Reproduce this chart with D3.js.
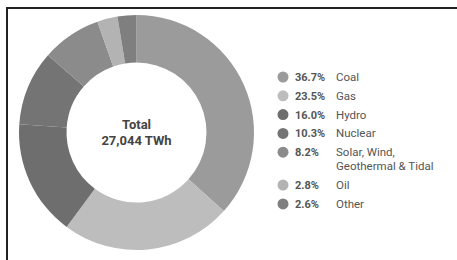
<!DOCTYPE html>
<html lang="en">
    <body>
        <svg id="chart"></svg>
    </body>

    <script src="https://d3js.org/d3.v7.min.js"></script>

    <script>
        var labels = ["Coal", "Gas", "Hydro", "Nuclear", "Solar, Wind,|Geothermal & Tidal", "Oil", "Other"];
        var shares = [36.7, 23.5, 16.0, 10.3, 8.2, 2.8, 2.6];
        var colours = ["#9b9b9b", "#bdbdbd", "#6e6e6e", "#747474", "#8b8b8b", "#b3b3b3", "#7f7f7f"];
        var totalLines = ["Total", "27,044 TWh"];

        var width = 457;
        var height = 260;
        var cx = 136.5, cy = 132.5;
        var outerR = 117.5, innerR = 70;

        var svg = d3.select("#chart")
            .attr("width", width)
            .attr("height", height);

        // frame (left + top only)
        svg.append("path")
            .attr("d", "M7,260 V8 H457")
            .attr("fill", "none")
            .attr("stroke", "#222")
            .attr("stroke-width", 2);

        var pie = d3.pie().sort(null).value(function (d) { return d; });
        var arc = d3.arc().innerRadius(innerR).outerRadius(outerR);

        var g = svg.append("g")
            .attr("transform", "translate(" + cx + "," + cy + ")");

        g.selectAll("path")
            .data(pie(shares))
            .enter()
            .append("path")
            .attr("d", arc)
            .attr("fill", function (d, i) { return colours[i]; });

        g.selectAll("text")
            .data(totalLines)
            .enter()
            .append("text")
            .attr("text-anchor", "middle")
            .attr("y", function (d, i) { return -4 + i * 16; })
            .attr("font-family", "Roboto, sans-serif")
            .attr("font-weight", "bold")
            .attr("font-size", 13)
            .attr("fill", "#444")
            .text(function (d) { return d; });

        // legend rows, the two-line label takes an extra row
        var rowY = d3.scaleLinear().domain([0, 1]).range([77, 95.8]);
        var rowIndex = [0, 1, 2, 3, 4, 5.75, 6.75];

        var legend = svg.append("g");
        var rows = legend.selectAll("g")
            .data(labels)
            .enter()
            .append("g")
            .attr("transform", function (d, i) { return "translate(283," + rowY(rowIndex[i]) + ")"; });

        rows.append("circle")
            .attr("r", 5.5)
            .attr("fill", function (d, i) { return colours[i]; });

        rows.append("text")
            .attr("x", 12)
            .attr("y", 4)
            .attr("font-family", "Roboto, sans-serif")
            .attr("font-weight", "bold")
            .attr("font-size", 11)
            .attr("fill", "#555")
            .text(function (d, i) { return shares[i].toFixed(1) + "%"; });

        rows.append("text")
            .attr("x", 53)
            .attr("y", 4)
            .attr("font-family", "Roboto, sans-serif")
            .attr("font-size", 11.5)
            .attr("fill", "#555")
            .selectAll("tspan")
            .data(function (d) { return d.split("|"); })
            .enter()
            .append("tspan")
            .attr("x", 53)
            .attr("dy", function (d, i) { return i === 0 ? 0 : 14; })
            .text(function (d) { return d; });
    </script>

    <style>
        body { margin: 0; background: #fff; }
        svg { display: block; }
    </style>
</html>
